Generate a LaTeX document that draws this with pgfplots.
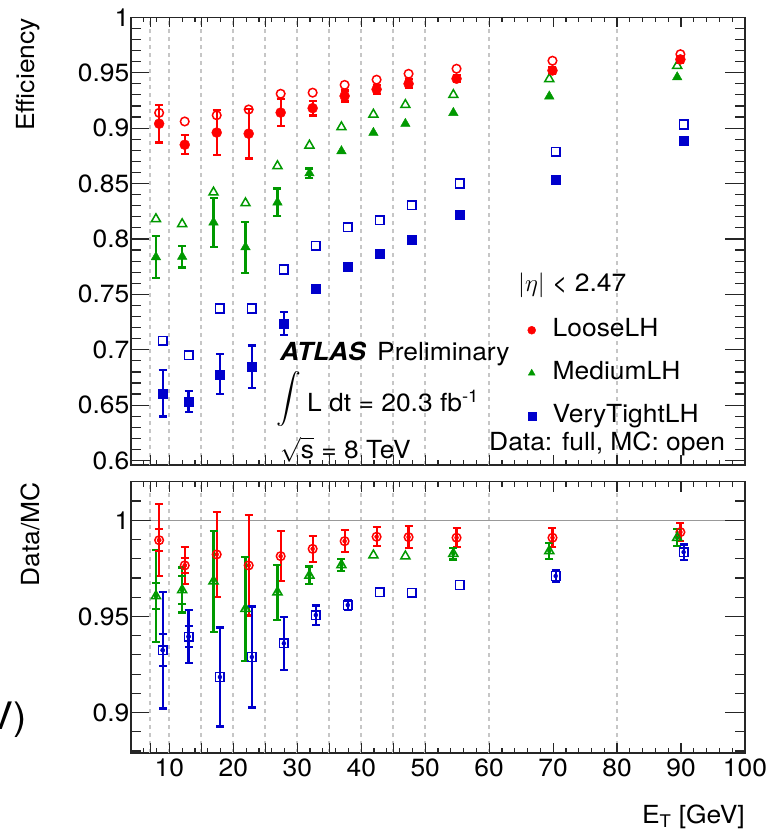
\documentclass[border=0pt]{standalone}
\usepackage{exscale}
\usepackage{fontspec}
\setmainfont{TeX Gyre Heros}[FakeStretch=1.06]
\usepackage{pgfplots}
\pgfplotsset{compat=1.18}
\usepackage{pgfplotstable}

\definecolor{rred}{RGB}{255,0,0}
\definecolor{rgreen}{RGB}{0,153,0}
\definecolor{rblue}{RGB}{0,0,204}
\newcommand{\bigfont}{\fontsize{25}{30}\selectfont}

% ---------- efficiency: data (full markers) ----------
\pgfplotstableread{
x y e
8.4 0.904 0.017
12.4 0.885 0.0085
17.4 0.896 0.020
22.4 0.895 0.0225
27.4 0.914 0.012
32.4 0.918 0.0066
37.4 0.929 0.005
42.4 0.935 0.004
47.4 0.940 0.004
54.9 0.9446 0.003
69.9 0.952 0.003
89.9 0.962 0.003
}\looseData
\pgfplotstableread{
x y
8.4 0.9138
12.4 0.906
17.4 0.9116
22.4 0.9168
27.4 0.931
32.4 0.932
37.4 0.939
42.4 0.9437
47.4 0.949
54.9 0.9536
69.9 0.9608
89.9 0.9667
}\looseMC
\pgfplotstableread{
x y
7.9 0.7836
12.0 0.7840
16.9 0.815
21.9 0.7926
26.9 0.833
31.9 0.8593
36.9 0.8793
41.9 0.8958
46.9 0.9039
54.4 0.9138
69.4 0.9287
89.4 0.946
}\mediumData
\pgfplotstableread{
x y e
7.9 0.7836 0.019
12.0 0.7840 0.0097
16.9 0.815 0.022
21.9 0.7926 0.023
26.9 0.833 0.0125
31.9 0.8593 0.0043
}\mediumErr
\pgfplotstableread{
x y
7.9 0.818
12.0 0.8135
16.9 0.842
21.9 0.8323
26.9 0.8658
31.9 0.8844
36.9 0.9009
41.9 0.9123
46.9 0.921
54.4 0.930
69.4 0.9443
89.4 0.9563
}\mediumMC
\pgfplotstableread{
x y
8.95 0.6608
13.0 0.6533
17.9 0.6779
22.9 0.6848
27.9 0.7237
32.9 0.7551
37.9 0.7746
42.9 0.7866
47.9 0.7994
55.4 0.8216
70.4 0.8539
90.4 0.8883
}\tightData
\pgfplotstableread{
x y e
8.95 0.6608 0.021
13.0 0.6533 0.0093
17.9 0.6779 0.018
22.9 0.6848 0.019
27.9 0.7237 0.0102
}\tightErr
\pgfplotstableread{
x y
8.95 0.7081
13.0 0.6952
17.9 0.7372
22.9 0.7372
27.9 0.7724
32.9 0.794
37.9 0.8105
42.9 0.817
47.9 0.8305
55.4 0.850
70.4 0.8788
90.4 0.9033
}\tightMC

% ---------- ratio Data/MC ----------
\pgfplotstableread{
x y e
8.4 0.9896 0.0188
12.4 0.9765 0.0095
17.4 0.9822 0.0222
22.4 0.9765 0.026
27.4 0.9813 0.013
32.4 0.9851 0.0068
37.4 0.9891 0.0058
42.4 0.9914 0.005
47.4 0.9912 0.0056
54.9 0.9909 0.005
69.9 0.9909 0.005
89.9 0.9938 0.0048
}\looseRatio
\pgfplotstableread{
x y e
8.4 0.9896 0.0057
12.4 0.9765 0.0039
}\looseRatioIn
\pgfplotstableread{
x y
7.9 0.9606
12.0 0.9637
16.9 0.9683
21.9 0.954
26.9 0.9626
31.9 0.9713
36.9 0.9767
41.9 0.9818
46.9 0.9813
54.4 0.9826
69.4 0.984
89.4 0.9909
}\mediumRatio
\pgfplotstableread{
x y e
7.9 0.9606 0.0238
12.0 0.9637 0.0117
16.9 0.9683 0.0262
21.9 0.954 0.027
26.9 0.9626 0.0143
31.9 0.9713 0.0046
36.9 0.9767 0.003
54.4 0.9826 0.003
69.4 0.984 0.004
89.4 0.9909 0.0045
}\mediumRatioErr
\pgfplotstableread{
x y e
7.9 0.9606 0.0068
12.0 0.9637 0.0071
}\mediumRatioIn
\pgfplotstableread{
x y
8.95 0.9324
13.0 0.9395
17.9 0.9185
22.9 0.9289
27.9 0.936
32.9 0.9507
37.9 0.9559
42.9 0.9626
47.9 0.9623
55.4 0.9663
70.4 0.971
90.4 0.9834
}\tightRatio
\pgfplotstableread{
x y e
8.95 0.9324 0.0303
13.0 0.9395 0.0139
17.9 0.9185 0.0257
22.9 0.9289 0.0262
27.9 0.936 0.0138
32.9 0.9507 0.005
37.9 0.9559 0.0025
70.4 0.971 0.003
90.4 0.9834 0.004
}\tightRatioErr
\pgfplotstableread{
x y e
8.95 0.9324 0.0083
13.0 0.9395 0.0054
}\tightRatioIn

\pgfplotsset{
  atlasaxis/.style={
    scale only axis, width=614bp,
    xmin=4, xmax=100,
    xtick={10,20,30,40,50,60,70,80,90,100},
    minor xtick={4,6,8,12,14,16,18,22,24,26,28,32,34,36,38,42,44,46,48,52,54,56,58,62,64,66,68,72,74,76,78,82,84,86,88,92,94,96,98},
    axis line style={line width=1.3bp, black!85},
    tick style={line width=1.2bp, black!85},
    xtick style={/pgfplots/major tick length=10bp,/pgfplots/minor tick length=5bp},
    ytick style={/pgfplots/major tick length=20bp,/pgfplots/minor tick length=10bp},
    tick align=inside,
    tick label style={font=\bigfont},
    /pgf/number format/assume math mode=true,
    yticklabel style={inner xsep=1.5bp, /pgf/number format/fixed},
    extra x ticks={7,10,15,20,25,30,35,40,45,50,60,80},
    extra x tick labels={},
    extra x tick style={grid=major, major grid style={gray!45, line width=1.8bp, dash pattern=on 4bp off 4bp}, /pgfplots/major tick length=0bp},
  },
  errb/.style={only marks, mark=none, forget plot, error bars/.cd, y dir=both, y explicit,
    error bar style={line width=2.2bp},
    error mark options={rotate=90, mark size=4bp, line width=2.2bp}},
}

\begin{document}
\begin{tikzpicture}[x=1bp,y=1bp]
\useasboundingbox (0,0) rectangle (769,-831);

% ================= top panel =================
\begin{axis}[atlasaxis,
  at={(131bp,-465bp)}, anchor=south west,
  height=447.7bp,
  ymin=0.596, ymax=1.0,
  ytick={0.6,0.65,0.7,0.75,0.8,0.85,0.9,0.95,1},
  minor ytick={0.61,0.62,0.63,0.64,0.66,0.67,0.68,0.69,0.71,0.72,0.73,0.74,0.76,0.77,0.78,0.79,0.81,0.82,0.83,0.84,0.86,0.87,0.88,0.89,0.91,0.92,0.93,0.94,0.96,0.97,0.98,0.99},
  xticklabels={},
  legend cell align=left,
  legend style={at={(0.6458,0.3283)}, anchor=north west, draw=none, fill=none,
    inner sep=0pt, font=\bigfont, row sep=19bp,
    nodes={inner sep=0pt, text height=18bp, text depth=6bp},
    /tikz/every odd column/.append style={column sep=17bp}},
  legend image post style={mark size=4bp},
]
% MC (open)
\addplot[rred, only marks, mark=o, mark size=4.3bp, mark options={line width=1.5bp}, forget plot] table[x=x,y=y]{\looseMC};
\addplot[rgreen, only marks, mark=triangle, mark size=5.2bp, mark options={line width=1.5bp}, forget plot] table[x=x,y=y]{\mediumMC};
\addplot[rblue, only marks, mark=square, mark size=4.3bp, mark options={line width=1.5bp}, forget plot] table[x=x,y=y]{\tightMC};
% Data error bars
\addplot[rred, errb] table[x=x,y=y,y error=e]{\looseData};
\addplot[rgreen, errb] table[x=x,y=y,y error=e]{\mediumErr};
\addplot[rblue, errb] table[x=x,y=y,y error=e]{\tightErr};
% Data (full)
\addplot[rred, only marks, mark=*, mark size=5bp] table[x=x,y=y]{\looseData};
\addlegendentry{LooseLH}
\addplot[rgreen, only marks, mark=triangle*, mark size=5.5bp] table[x=x,y=y]{\mediumData};
\addlegendentry{MediumLH}
\addplot[rblue, only marks, mark=square*, mark size=4.5bp] table[x=x,y=y]{\tightData};
\addlegendentry{VeryTightLH}
\end{axis}

% ================= ratio panel =================
\begin{axis}[atlasaxis,
  at={(131bp,-753bp)}, anchor=south west,
  height=271.3bp,
  ymin=0.879, ymax=1.02,
  ytick={0.9,0.95,1},
  minor ytick={0.88,0.89,0.91,0.92,0.93,0.94,0.96,0.97,0.98,0.99,1.01,1.02},
  xticklabel style={inner ysep=6bp},
  extra y ticks={1}, extra y tick labels={},
  extra y tick style={grid=major, major grid style={gray!80, line width=1.2bp, solid}, /pgfplots/major tick length=0bp},
]
\addplot[rred, errb] table[x=x,y=y,y error=e]{\looseRatio};
\addplot[rgreen, errb] table[x=x,y=y,y error=e]{\mediumRatioErr};
\addplot[rblue, errb] table[x=x,y=y,y error=e]{\tightRatioErr};
\addplot[rred, errb] table[x=x,y=y,y error=e]{\looseRatioIn};
\addplot[rgreen, errb] table[x=x,y=y,y error=e]{\mediumRatioIn};
\addplot[rblue, errb] table[x=x,y=y,y error=e]{\tightRatioIn};
\addplot[rred, only marks, mark=o, mark size=4.3bp, mark options={line width=1.5bp, fill=white}] table[x=x,y=y]{\looseRatio};
\addplot[rgreen, only marks, mark=triangle, mark size=5.2bp, mark options={line width=1.5bp, fill=white}] table[x=x,y=y]{\mediumRatio};
\addplot[rblue, only marks, mark=square, mark size=4.3bp, mark options={line width=1.5bp, fill=white}] table[x=x,y=y]{\tightRatio};
\end{axis}

% ================= texts =================
\node[rotate=90, anchor=base east, inner sep=0pt, font=\bigfont] at (34,-18) {Efficiency};
\node[rotate=90, anchor=base east, inner sep=0pt, font=\bigfont] at (39,-482) {Data/MC};
\node[anchor=base east, inner sep=0pt, font=\bigfont] at (745,-823) {E\textsubscript{T} [GeV]};
\node[anchor=base west, inner sep=0pt, font=\bigfont] at (280,-360) {\textbf{\textit{ATLAS}}};
\node[anchor=base west, inner sep=0pt, font=\bigfont] at (377,-360) {Preliminary};
\node[anchor=center, inner sep=0pt] at (289,-399) {\fontsize{28}{28}\selectfont$\displaystyle\int$};
\node[anchor=base west, inner sep=0pt, font=\bigfont] at (307,-411.7) {L dt = 20.3 fb\textsuperscript{-1}};
\node[anchor=base west, inner sep=0pt, font=\bigfont] at (280,-458) {$\sqrt{\mbox{s}}$ = 8 TeV};
\node[anchor=base west, inner sep=0pt, font=\bigfont] at (518,-291.7) {$|\eta|$ < 2.47};
\node[anchor=base west, inner sep=0pt, font=\bigfont] at (489,-450) {Data: full, MC: open};
\node[anchor=base east, inner sep=0pt] at (27,-729) {\fontsize{38}{40}\selectfont V)};
\end{tikzpicture}
\end{document}
